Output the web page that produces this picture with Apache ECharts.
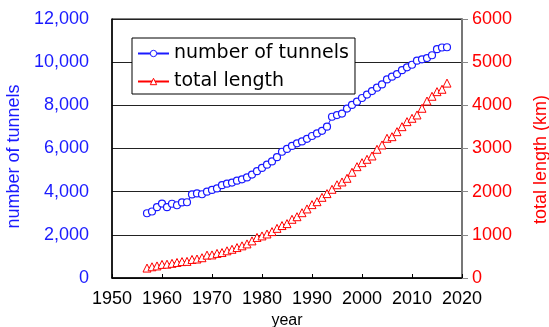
<!DOCTYPE html>
<html>
<head>
<meta charset="utf-8">
<script src="https://cdn.jsdelivr.net/npm/echarts@6/dist/echarts.min.js"></script>
<style>
  html, body { margin: 0; padding: 0; background: #fff; }
  #chart { width: 549px; height: 327px; }
</style>
</head>
<body>
<div id="chart"></div>
<script>
// Tunnel statistics by year
const years = [];
for (let y = 1957; y <= 2017; y++) years.push(y);

// number of tunnels (left axis)
const tunnelCount = [
  3000, 3080, 3280, 3450, 3280, 3440, 3370, 3500, 3510, 3870,
  3920, 3880, 4000, 4080, 4150, 4300, 4370, 4420, 4510, 4570,
  4660, 4790, 4950, 5100, 5250, 5400, 5600, 5850, 5980, 6120,
  6240, 6330, 6450, 6580, 6700, 6820, 7010, 7470, 7550, 7620,
  7850, 8020, 8170, 8340, 8500, 8660, 8820, 8970, 9200, 9330,
  9450, 9630, 9760, 9880, 10070, 10130, 10190, 10320, 10600, 10680,
  10690
];

// total length in km (right axis)
const totalLength = [
  230, 260, 280, 315, 320, 340, 360, 380, 385, 430,
  440, 470, 530, 535, 570, 590, 630, 665, 705, 745,
  790, 860, 940, 975, 1020, 1075, 1150, 1215, 1260, 1360,
  1420, 1513, 1600, 1700, 1768, 1869, 1955, 2055, 2160, 2225,
  2310, 2450, 2579, 2672, 2750, 2827, 2982, 3082, 3237, 3274,
  3390, 3506, 3622, 3700, 3777, 3932, 4100, 4210, 4317, 4372,
  4515
];

const xTicks = { min: 1950, max: 2020, step: 10 };
const leftTicks = { min: 0, max: 12000, step: 2000 };
const rightTicks = { min: 0, max: 6000, step: 1000 };

const FONT = 'Liberation Sans, Arial, sans-serif';
const LEGEND_FONT = 'DejaVu Sans, sans-serif';
const BLUE = '#1a1aff';
const RED = '#ff0000';

const chart = echarts.init(document.getElementById('chart'), null, { renderer: 'canvas' });

chart.setOption({
  animation: false,
  backgroundColor: '#fff',
  textStyle: { fontFamily: FONT },
  grid: {
    left: 112, right: 87, top: 19, bottom: 49,
    outerBoundsMode: 'none', containLabel: false,
    show: true, borderColor: '#000', borderWidth: 1, backgroundColor: 'transparent'
  },
  legend: {
    orient: 'vertical',
    left: 132, top: 38,
    backgroundColor: '#fff',
    borderColor: '#000', borderWidth: 1,
    padding: [6, 6, 3, 5],
    itemWidth: 31, itemHeight: 8, itemGap: 9,
    itemStyle: { color: '#fff', borderWidth: 1 },
    textStyle: { fontFamily: LEGEND_FONT, fontSize: 19, color: '#000' },
    data: ['number of tunnels', 'total length']
  },
  xAxis: {
    type: 'value',
    min: xTicks.min, max: xTicks.max, interval: xTicks.step,
    name: 'year', nameLocation: 'middle', nameGap: 35,
    nameTextStyle: { fontFamily: FONT, fontSize: 16, color: '#000' },
    axisLine: { show: true, lineStyle: { color: '#000', width: 1.5 } },
    axisTick: { show: true, inside: true, length: 4, lineStyle: { color: '#000' } },
    axisLabel: { fontFamily: FONT, fontSize: 18, color: '#000', margin: 12, formatter: v => String(v) },
    splitLine: { show: false }
  },
  yAxis: [
    {
      type: 'value',
      min: leftTicks.min, max: leftTicks.max, interval: leftTicks.step,
      position: 'left',
      name: 'number of tunnels', nameLocation: 'middle', nameGap: 84, nameRotate: 90,
      nameTextStyle: { fontFamily: FONT, fontSize: 18, color: BLUE, padding: [0, 16, 0, 0] },
      axisLine: { show: true, lineStyle: { color: '#000', width: 1.5 } },
      axisTick: { show: false },
      axisLabel: {
        fontFamily: FONT, fontSize: 18, color: BLUE, margin: 23,
        formatter: v => v.toLocaleString('en-US')
      },
      splitLine: { show: true, lineStyle: { color: '#222', width: 1 } }
    },
    {
      type: 'value',
      min: rightTicks.min, max: rightTicks.max, interval: rightTicks.step,
      position: 'right',
      name: 'total length (km)', nameLocation: 'middle', nameGap: 70, nameRotate: 90,
      nameTextStyle: { fontFamily: FONT, fontSize: 18, color: RED, padding: [0, 22, 0, 0] },
      axisLine: { show: true, lineStyle: { color: '#777', width: 2 } },
      axisTick: { show: true, inside: false, length: 6, lineStyle: { color: '#888', width: 1 } },
      axisLabel: { fontFamily: FONT, fontSize: 18, color: RED, margin: 10, formatter: v => String(v) },
      splitLine: { show: false }
    }
  ],
  series: [
    {
      name: 'number of tunnels',
      type: 'line',
      yAxisIndex: 0,
      data: years.map((y, i) => [y, tunnelCount[i]]),
      symbol: 'circle', symbolSize: 7,
      itemStyle: { color: '#fff', borderColor: BLUE, borderWidth: 1.2 },
      lineStyle: { color: BLUE, width: 1 },
      color: BLUE
    },
    {
      name: 'total length',
      type: 'line',
      yAxisIndex: 1,
      data: years.map((y, i) => [y, totalLength[i]]),
      symbol: 'triangle', symbolSize: 8,
      itemStyle: { color: '#fff', borderColor: RED, borderWidth: 1 },
      lineStyle: { color: RED, width: 1 },
      color: RED
    }
  ]
});
</script>
</body>
</html>
